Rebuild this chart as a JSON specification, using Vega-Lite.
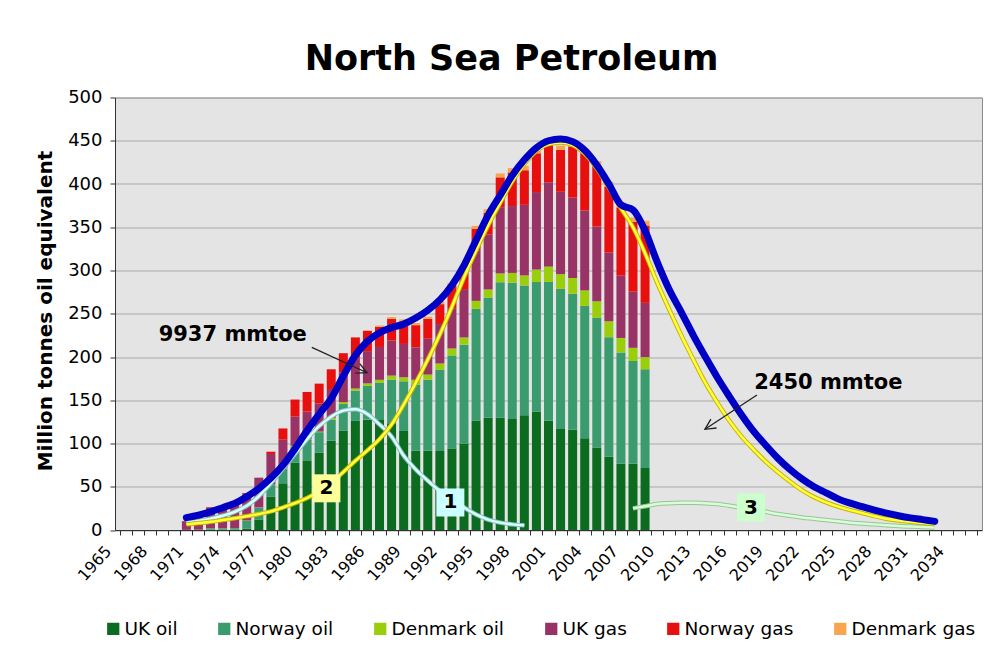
{
  "$schema": "https://vega.github.io/schema/vega-lite/v6.json",
  "width": 867,
  "height": 432.5,
  "autosize": {"type": "none"},
  "padding": {"left": 115, "top": 97.5, "right": 21, "bottom": 115},
  "background": "white",
  "title": {"text": "North Sea Petroleum", "fontSize": 35, "font": "DejaVu Sans", "fontWeight": "bold", "anchor": "middle", "dx": -37, "offset": 12, "color": "#000000"},
  "config": {
    "font": "DejaVu Sans",
    "view": {"fill": "#e4e4e4", "stroke": "#8a8a8a", "strokeWidth": 1}
  },
  "resolve": {"axis": {"x": "independent"}},
  "datasets": {
    "bars": [
      {"year": 1971, "UK oil": 0.2, "Norway oil": 0, "Denmark oil": 0, "UK gas": 10.0, "Norway gas": 0, "Denmark gas": 0},
      {"year": 1972, "UK oil": 0.2, "Norway oil": 0.3, "Denmark oil": 0, "UK gas": 16.6, "Norway gas": 0, "Denmark gas": 0},
      {"year": 1973, "UK oil": 0.4, "Norway oil": 1.6, "Denmark oil": 0.1, "UK gas": 24.2, "Norway gas": 0, "Denmark gas": 0},
      {"year": 1974, "UK oil": 0.4, "Norway oil": 1.6, "Denmark oil": 0.1, "UK gas": 25.5, "Norway gas": 0, "Denmark gas": 0},
      {"year": 1975, "UK oil": 0.4, "Norway oil": 1.7, "Denmark oil": 0.1, "UK gas": 31.3, "Norway gas": 0, "Denmark gas": 0},
      {"year": 1976, "UK oil": 1.6, "Norway oil": 9.3, "Denmark oil": 0.2, "UK gas": 31.6, "Norway gas": 0, "Denmark gas": 0},
      {"year": 1977, "UK oil": 12.2, "Norway oil": 13.7, "Denmark oil": 0.2, "UK gas": 34.4, "Norway gas": 0, "Denmark gas": 0},
      {"year": 1978, "UK oil": 38.3, "Norway oil": 13.6, "Denmark oil": 0.6, "UK gas": 35.4, "Norway gas": 2.6, "Denmark gas": 0},
      {"year": 1979, "UK oil": 54.0, "Norway oil": 17.2, "Denmark oil": 0.5, "UK gas": 32.7, "Norway gas": 13.0, "Denmark gas": 0},
      {"year": 1980, "UK oil": 77.9, "Norway oil": 18.8, "Denmark oil": 0.5, "UK gas": 34.1, "Norway gas": 19.5, "Denmark gas": 0},
      {"year": 1981, "UK oil": 80.5, "Norway oil": 24.4, "Denmark oil": 0.3, "UK gas": 31.8, "Norway gas": 22.6, "Denmark gas": 0},
      {"year": 1982, "UK oil": 89.5, "Norway oil": 23.6, "Denmark oil": 0.7, "UK gas": 32.4, "Norway gas": 23.0, "Denmark gas": 0},
      {"year": 1983, "UK oil": 103.2, "Norway oil": 24.5, "Denmark oil": 2.0, "UK gas": 33.3, "Norway gas": 22.8, "Denmark gas": 0},
      {"year": 1984, "UK oil": 115.0, "Norway oil": 30.6, "Denmark oil": 2.2, "UK gas": 34.5, "Norway gas": 22.1, "Denmark gas": 0},
      {"year": 1985, "UK oil": 126.1, "Norway oil": 35.0, "Denmark oil": 2.5, "UK gas": 35.0, "Norway gas": 24.1, "Denmark gas": 0.2},
      {"year": 1986, "UK oil": 127.6, "Norway oil": 39.0, "Denmark oil": 2.9, "UK gas": 37.3, "Norway gas": 23.3, "Denmark gas": 0.8},
      {"year": 1987, "UK oil": 127.1, "Norway oil": 42.9, "Denmark oil": 3.6, "UK gas": 38.0, "Norway gas": 23.3, "Denmark gas": 1.5},
      {"year": 1988, "UK oil": 123.4, "Norway oil": 50.5, "Denmark oil": 4.6, "UK gas": 40.5, "Norway gas": 25.2, "Denmark gas": 2.0},
      {"year": 1989, "UK oil": 114.5, "Norway oil": 57.4, "Denmark oil": 4.7, "UK gas": 38.5, "Norway gas": 25.8, "Denmark gas": 2.5},
      {"year": 1990, "UK oil": 91.8, "Norway oil": 76.3, "Denmark oil": 5.6, "UK gas": 37.4, "Norway gas": 25.7, "Denmark gas": 2.5},
      {"year": 1991, "UK oil": 91.6, "Norway oil": 82.1, "Denmark oil": 6.0, "UK gas": 41.4, "Norway gas": 23.1, "Denmark gas": 2.5},
      {"year": 1992, "UK oil": 91.3, "Norway oil": 94.2, "Denmark oil": 7.0, "UK gas": 45.6, "Norway gas": 23.0, "Denmark gas": 3.0},
      {"year": 1993, "UK oil": 94.3, "Norway oil": 107.4, "Denmark oil": 8.1, "UK gas": 46.6, "Norway gas": 26.1, "Denmark gas": 3.0},
      {"year": 1994, "UK oil": 100.1, "Norway oil": 114.2, "Denmark oil": 8.3, "UK gas": 55.9, "Norway gas": 22.7, "Denmark gas": 3.5},
      {"year": 1995, "UK oil": 126.7, "Norway oil": 129.0, "Denmark oil": 9.2, "UK gas": 58.4, "Norway gas": 24.8, "Denmark gas": 3.5},
      {"year": 1996, "UK oil": 129.9, "Norway oil": 139.0, "Denmark oil": 9.2, "UK gas": 63.7, "Norway gas": 25.0, "Denmark gas": 4.0},
      {"year": 1997, "UK oil": 129.7, "Norway oil": 156.8, "Denmark oil": 10.1, "UK gas": 76.6, "Norway gas": 34.5, "Denmark gas": 4.5},
      {"year": 1998, "UK oil": 128.2, "Norway oil": 157.7, "Denmark oil": 11.3, "UK gas": 77.3, "Norway gas": 38.9, "Denmark gas": 5.0},
      {"year": 1999, "UK oil": 132.6, "Norway oil": 150.1, "Denmark oil": 11.6, "UK gas": 81.6, "Norway gas": 40.0, "Denmark gas": 5.0},
      {"year": 2000, "UK oil": 137.1, "Norway oil": 149.5, "Denmark oil": 14.5, "UK gas": 89.6, "Norway gas": 44.8, "Denmark gas": 5.0},
      {"year": 2001, "UK oil": 126.2, "Norway oil": 160.6, "Denmark oil": 17.7, "UK gas": 97.5, "Norway gas": 44.8, "Denmark gas": 5.0},
      {"year": 2002, "UK oil": 116.7, "Norway oil": 162.1, "Denmark oil": 17.0, "UK gas": 95.2, "Norway gas": 48.4, "Denmark gas": 5.0},
      {"year": 2003, "UK oil": 115.9, "Norway oil": 157.3, "Denmark oil": 18.1, "UK gas": 93.0, "Norway gas": 59.1, "Denmark gas": 5.0},
      {"year": 2004, "UK oil": 106.1, "Norway oil": 153.0, "Denmark oil": 17.9, "UK gas": 92.4, "Norway gas": 66.2, "Denmark gas": 5.0},
      {"year": 2005, "UK oil": 95.4, "Norway oil": 149.9, "Denmark oil": 19.1, "UK gas": 86.4, "Norway gas": 70.3, "Denmark gas": 5.5},
      {"year": 2006, "UK oil": 84.7, "Norway oil": 138.2, "Denmark oil": 18.4, "UK gas": 79.4, "Norway gas": 76.5, "Denmark gas": 5.5},
      {"year": 2007, "UK oil": 76.6, "Norway oil": 128.7, "Denmark oil": 16.7, "UK gas": 72.0, "Norway gas": 78.9, "Denmark gas": 5.5},
      {"year": 2008, "UK oil": 76.8, "Norway oil": 118.6, "Denmark oil": 15.2, "UK gas": 64.9, "Norway gas": 80.7, "Denmark gas": 5.0},
      {"year": 2009, "UK oil": 71.7, "Norway oil": 114.2, "Denmark oil": 14.0, "UK gas": 62.7, "Norway gas": 89.4, "Denmark gas": 5.5}
    ],
    "curves": [
      {"year": 1971, "total": 14.3, "c1": 8.5, "c2": 6.5},
      {"year": 1972, "total": 17.3, "c1": 10.5, "c2": 8},
      {"year": 1973, "total": 21, "c1": 13, "c2": 9.5},
      {"year": 1974, "total": 25.8, "c1": 16.5, "c2": 11.5},
      {"year": 1975, "total": 30.8, "c1": 21, "c2": 13.5},
      {"year": 1976, "total": 38.5, "c1": 28, "c2": 16},
      {"year": 1977, "total": 48, "c1": 39, "c2": 18.5},
      {"year": 1978, "total": 60, "c1": 54, "c2": 21.5},
      {"year": 1979, "total": 75, "c1": 71, "c2": 26},
      {"year": 1980, "total": 94, "c1": 88, "c2": 31},
      {"year": 1981, "total": 115, "c1": 105, "c2": 37},
      {"year": 1982, "total": 134, "c1": 120, "c2": 45},
      {"year": 1983, "total": 152, "c1": 131, "c2": 55},
      {"year": 1984, "total": 178, "c1": 138, "c2": 67},
      {"year": 1985, "total": 202, "c1": 139.5, "c2": 80},
      {"year": 1986, "total": 218, "c1": 134, "c2": 92},
      {"year": 1987, "total": 228, "c1": 122, "c2": 105},
      {"year": 1988, "total": 234, "c1": 108, "c2": 122},
      {"year": 1989, "total": 238, "c1": 86, "c2": 145},
      {"year": 1990, "total": 245, "c1": 70, "c2": 170},
      {"year": 1991, "total": 254, "c1": 57, "c2": 197},
      {"year": 1992, "total": 266, "c1": 45, "c2": 226},
      {"year": 1993, "total": 283, "c1": 35, "c2": 258},
      {"year": 1994, "total": 306, "c1": 26, "c2": 292},
      {"year": 1995, "total": 335, "c1": 18, "c2": 323},
      {"year": 1996, "total": 364, "c1": 12, "c2": 352},
      {"year": 1997, "total": 387, "c1": 8.5, "c2": 378},
      {"year": 1998, "total": 410, "c1": 6.5, "c2": 403},
      {"year": 1999, "total": 428, "c1": 5.5, "c2": 423},
      {"year": 2000, "total": 442, "c2": 438},
      {"year": 2001, "total": 450, "c2": 446},
      {"year": 2002, "total": 452, "c2": 448},
      {"year": 2003, "total": 449, "c2": 445},
      {"year": 2004, "total": 439, "c2": 435},
      {"year": 2005, "total": 422, "c2": 418},
      {"year": 2006, "total": 400, "c2": 396},
      {"year": 2007, "total": 376, "c2": 372},
      {"year": 2008, "total": 370, "c2": 350, "c3": 25},
      {"year": 2009, "total": 346, "c2": 320, "c3": 27.5},
      {"year": 2010, "total": 310, "c2": 286, "c3": 30},
      {"year": 2011, "total": 278, "c2": 255, "c3": 31},
      {"year": 2012, "total": 252, "c2": 225, "c3": 31.5},
      {"year": 2013, "total": 225, "c2": 197, "c3": 31.5},
      {"year": 2014, "total": 200, "c2": 170, "c3": 31},
      {"year": 2015, "total": 176, "c2": 147, "c3": 30},
      {"year": 2016, "total": 154, "c2": 126, "c3": 28},
      {"year": 2017, "total": 133, "c2": 108, "c3": 25.5},
      {"year": 2018, "total": 114, "c2": 93, "c3": 23},
      {"year": 2019, "total": 98, "c2": 79, "c3": 21},
      {"year": 2020, "total": 83, "c2": 67, "c3": 18.5},
      {"year": 2021, "total": 70, "c2": 56, "c3": 16.5},
      {"year": 2022, "total": 59, "c2": 46, "c3": 14.5},
      {"year": 2023, "total": 50, "c2": 38, "c3": 13},
      {"year": 2024, "total": 43, "c2": 32, "c3": 11.5},
      {"year": 2025, "total": 36, "c2": 27, "c3": 10},
      {"year": 2026, "total": 31, "c2": 23, "c3": 8.5},
      {"year": 2027, "total": 27, "c2": 19.5, "c3": 7.5},
      {"year": 2028, "total": 23, "c2": 16, "c3": 6.5},
      {"year": 2029, "total": 19.5, "c2": 13, "c3": 5.5},
      {"year": 2030, "total": 16.5, "c2": 11, "c3": 4.5},
      {"year": 2031, "total": 14, "c2": 9.5, "c3": 4},
      {"year": 2032, "total": 12, "c2": 8, "c3": 3.5},
      {"year": 2033, "total": 10, "c2": 7, "c3": 3}
    ],
    "notes": [
      {"year": 1974.84, "value": 225.4, "text": "9937 mmtoe"},
      {"year": 2024.18, "value": 169.6, "text": "2450 mmtoe"}
    ],
    "arrows": [
      {"id": "a", "x": 1981.39, "y": 211.2, "x2": 1985.97, "y2": 181.8},
      {"id": "b", "x": 2018.27, "y": 156.1, "x2": 2013.96, "y2": 116.4}
    ],
    "boxes": [
      {"year": 1982.6, "value": 48.2, "label": "2"},
      {"year": 1992.87, "value": 31.8, "label": "1"},
      {"year": 2017.78, "value": 26, "label": "3"}
    ]
  },
  "layer": [
    {
      "data": {"name": "bars"},
      "transform": [
        {"fold": ["UK oil", "Norway oil", "Denmark oil", "UK gas", "Norway gas", "Denmark gas"], "as": ["series", "value"]},
        {"calculate": "indexof(['UK oil','Norway oil','Denmark oil','UK gas','Norway gas','Denmark gas'], datum.series)", "as": "k"}
      ],
      "mark": {"type": "bar", "size": 9},
      "encoding": {
        "x": {"field": "year", "type": "quantitative", "scale": {"domain": [1965.5, 2036.5], "nice": false, "zero": false},
          "axis": {"orient": "bottom", "title": null, "values": [1965.5,1966.5,1967.5,1968.5,1969.5,1970.5,1971.5,1972.5,1973.5,1974.5,1975.5,1976.5,1977.5,1978.5,1979.5,1980.5,1981.5,1982.5,1983.5,1984.5,1985.5,1986.5,1987.5,1988.5,1989.5,1990.5,1991.5,1992.5,1993.5,1994.5,1995.5,1996.5,1997.5,1998.5,1999.5,2000.5,2001.5,2002.5,2003.5,2004.5,2005.5,2006.5,2007.5,2008.5,2009.5,2010.5,2011.5,2012.5,2013.5,2014.5,2015.5,2016.5,2017.5,2018.5,2019.5,2020.5,2021.5,2022.5,2023.5,2024.5,2025.5,2026.5,2027.5,2028.5,2029.5,2030.5,2031.5,2032.5,2033.5,2034.5,2035.5,2036.5],
            "labels": false, "ticks": true, "tickSize": 5, "tickColor": "#333333", "domain": true, "domainColor": "#333333", "grid": false}},
        "y": {"field": "value", "type": "quantitative", "stack": "zero", "scale": {"domain": [0, 500], "nice": false},
          "axis": {"values": [0,50,100,150,200,250,300,350,400,450,500], "grid": true, "gridColor": "#a9a9a9", "gridWidth": 1, "tickSize": 5, "tickColor": "#333333", "domainColor": "#333333",
            "labelFontSize": 18, "labelPadding": 8, "labelColor": "#000000", "labelFlush": false,
            "title": "Million tonnes oil equivalent", "titleFontSize": 20, "titleFontWeight": "bold", "titleColor": "#000000",
            "titleX": -70, "titleY": 213, "titleAngle": -90, "titleAlign": "center", "titleBaseline": "middle"}},
        "color": {"field": "series", "type": "nominal",
          "sort": ["UK oil", "Norway oil", "Denmark oil", "UK gas", "Norway gas", "Denmark gas"],
          "scale": {"domain": ["UK oil", "Norway oil", "Denmark oil", "UK gas", "Norway gas", "Denmark gas"], "range": ["#0b6b1f", "#3a9c6e", "#9acd0a", "#993366", "#e8100e", "#f8a550"]},
          "legend": {"orient": "none", "legendX": -11, "legendY": 522, "direction": "horizontal", "title": null, "symbolType": "square", "symbolSize": 150, "symbolStrokeWidth": 0, "labelFontSize": 18.5, "labelColor": "#000000", "columnPadding": 37, "labelOffset": 2}},
        "order": {"field": "k", "type": "quantitative", "sort": "ascending"}
      }
    },
    {
      "data": {"name": "curves"},
      "transform": [{"filter": "isValid(datum.c1)"}],
      "mark": {"type": "line", "interpolate": "monotone", "color": "#86bcbc", "strokeWidth": 4.5},
      "encoding": {
        "x": {"field": "year", "type": "quantitative", "scale": {"domain": [1965.5, 2036.5], "nice": false, "zero": false}, "axis": null},
        "y": {"field": "c1", "type": "quantitative", "scale": {"domain": [0, 500], "nice": false}}
      }
    },
    {
      "data": {"name": "curves"},
      "transform": [{"filter": "isValid(datum.c1)"}],
      "mark": {"type": "line", "interpolate": "monotone", "color": "#d9ffff", "strokeWidth": 2.5},
      "encoding": {
        "x": {"field": "year", "type": "quantitative", "scale": {"domain": [1965.5, 2036.5], "nice": false, "zero": false}, "axis": null},
        "y": {"field": "c1", "type": "quantitative", "scale": {"domain": [0, 500], "nice": false}}
      }
    },
    {
      "data": {"name": "curves"},
      "transform": [{"filter": "isValid(datum.c3)"}],
      "mark": {"type": "line", "interpolate": "monotone", "color": "#9cc29c", "strokeWidth": 4.5},
      "encoding": {
        "x": {"field": "year", "type": "quantitative", "scale": {"domain": [1965.5, 2036.5], "nice": false, "zero": false}, "axis": null},
        "y": {"field": "c3", "type": "quantitative", "scale": {"domain": [0, 500], "nice": false}}
      }
    },
    {
      "data": {"name": "curves"},
      "transform": [{"filter": "isValid(datum.c3)"}],
      "mark": {"type": "line", "interpolate": "monotone", "color": "#d6ffd6", "strokeWidth": 2.5},
      "encoding": {
        "x": {"field": "year", "type": "quantitative", "scale": {"domain": [1965.5, 2036.5], "nice": false, "zero": false}, "axis": null},
        "y": {"field": "c3", "type": "quantitative", "scale": {"domain": [0, 500], "nice": false}}
      }
    },
    {
      "data": {"name": "curves"},
      "transform": [{"filter": "isValid(datum.c2)"}],
      "mark": {"type": "line", "interpolate": "monotone", "color": "#c8b400", "strokeWidth": 4.5},
      "encoding": {
        "x": {"field": "year", "type": "quantitative", "scale": {"domain": [1965.5, 2036.5], "nice": false, "zero": false}, "axis": null},
        "y": {"field": "c2", "type": "quantitative", "scale": {"domain": [0, 500], "nice": false}}
      }
    },
    {
      "data": {"name": "curves"},
      "transform": [{"filter": "isValid(datum.c2)"}],
      "mark": {"type": "line", "interpolate": "monotone", "color": "#ffff3c", "strokeWidth": 2.5},
      "encoding": {
        "x": {"field": "year", "type": "quantitative", "scale": {"domain": [1965.5, 2036.5], "nice": false, "zero": false}, "axis": null},
        "y": {"field": "c2", "type": "quantitative", "scale": {"domain": [0, 500], "nice": false}}
      }
    },
    {
      "data": {"name": "curves"},
      "transform": [{"filter": "isValid(datum.total)"}],
      "mark": {"type": "line", "interpolate": "monotone", "color": "#0000c4", "strokeWidth": 7, "strokeCap": "round"},
      "encoding": {
        "x": {"field": "year", "type": "quantitative", "scale": {"domain": [1965.5, 2036.5], "nice": false, "zero": false},
          "axis": {"orient": "bottom", "title": null, "values": [1965.5,1967.5,1970.5,1973.5,1976.5,1979.5,1982.5,1985.5,1988.5,1991.5,1994.5,1997.5,2000.5,2003.5,2006.5,2009.5,2012.5,2015.5,2018.5,2021.5,2024.5,2027.5,2030.5,2033.5],
            "labelExpr": "datum.value == 1965.5 ? '1965' : format(datum.value + 0.5, 'd')",
            "labelOffset": {"condition": {"test": "datum.value == 1965.5", "value": -12}, "value": 0},
            "ticks": false, "domain": false, "grid": false,
            "labelAngle": -48, "labelAlign": "right", "labelBaseline": "middle", "labelPadding": 18, "labelFontSize": 16, "labelColor": "#000000",
            "labelFlush": false, "labelOverlap": false}},
        "y": {"field": "total", "type": "quantitative", "scale": {"domain": [0, 500], "nice": false}}
      }
    },
    {
      "data": {"name": "boxes"},
      "mark": {"type": "point", "shape": "square", "size": 784, "filled": true, "opacity": 1},
      "encoding": {
        "x": {"field": "year", "type": "quantitative", "scale": {"domain": [1965.5, 2036.5], "nice": false, "zero": false}, "axis": null},
        "y": {"field": "value", "type": "quantitative", "scale": {"domain": [0, 500], "nice": false}},
        "fill": {"field": "label", "type": "nominal", "scale": {"domain": ["1", "2", "3"], "range": ["#ccffff", "#ffff99", "#ccffcc"]}, "legend": null}
      }
    },
    {
      "data": {"name": "boxes"},
      "mark": {"type": "text", "fontSize": 20, "fontWeight": "bold", "align": "center", "baseline": "middle", "color": "#000000"},
      "encoding": {
        "x": {"field": "year", "type": "quantitative", "scale": {"domain": [1965.5, 2036.5], "nice": false, "zero": false}, "axis": null},
        "y": {"field": "value", "type": "quantitative", "scale": {"domain": [0, 500], "nice": false}},
        "text": {"field": "label"}
      }
    },
    {
      "data": {"name": "arrows"},
      "mark": {"type": "rule", "color": "#222222", "strokeWidth": 1.3},
      "encoding": {
        "x": {"field": "x", "type": "quantitative", "scale": {"domain": [1965.5, 2036.5], "nice": false, "zero": false}, "axis": null},
        "y": {"field": "y", "type": "quantitative", "scale": {"domain": [0, 500], "nice": false}},
        "x2": {"field": "x2"},
        "y2": {"field": "y2"}
      }
    },
    {
      "data": {"name": "arrows"},
      "transform": [{"filter": "datum.id == 'a'"}],
      "mark": {"type": "point", "shape": "M-1,-0.5L0,0L-1,0.5", "size": 440, "filled": false, "stroke": "#222222", "strokeWidth": 1.3, "opacity": 1, "angle": 24.4},
      "encoding": {
        "x": {"field": "x2", "type": "quantitative", "scale": {"domain": [1965.5, 2036.5], "nice": false, "zero": false}, "axis": null},
        "y": {"field": "y2", "type": "quantitative", "scale": {"domain": [0, 500], "nice": false}}
      }
    },
    {
      "data": {"name": "arrows"},
      "transform": [{"filter": "datum.id == 'b'"}],
      "mark": {"type": "point", "shape": "M-1,-0.5L0,0L-1,0.5", "size": 440, "filled": false, "stroke": "#222222", "strokeWidth": 1.3, "opacity": 1, "angle": 146.9},
      "encoding": {
        "x": {"field": "x2", "type": "quantitative", "scale": {"domain": [1965.5, 2036.5], "nice": false, "zero": false}, "axis": null},
        "y": {"field": "y2", "type": "quantitative", "scale": {"domain": [0, 500], "nice": false}}
      }
    },
    {
      "data": {"name": "notes"},
      "mark": {"type": "text", "fontSize": 21, "fontWeight": "bold", "align": "center", "baseline": "middle", "color": "#000000"},
      "encoding": {
        "x": {"field": "year", "type": "quantitative", "scale": {"domain": [1965.5, 2036.5], "nice": false, "zero": false}, "axis": null},
        "y": {"field": "value", "type": "quantitative", "scale": {"domain": [0, 500], "nice": false}},
        "text": {"field": "text"}
      }
    }
  ]
}
